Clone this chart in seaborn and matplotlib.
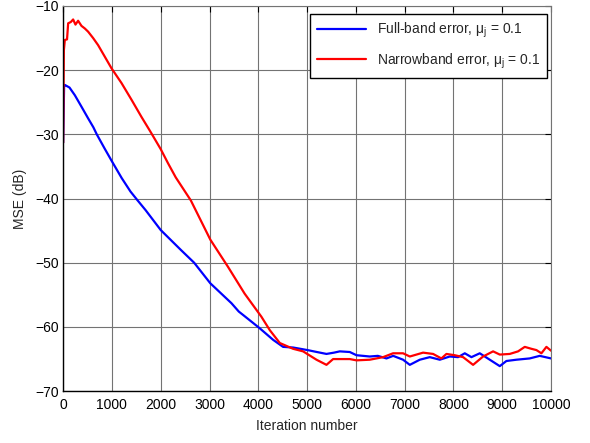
import numpy as np
import pandas as pd
import seaborn as sns
import matplotlib.pyplot as plt

# --- data ---
full_x = [0, 20, 35, 130, 240, 377, 512, 620, 690, 850, 1000, 1200, 1380, 1517, 1690,
          2000, 2413, 2686, 3017, 3450, 3600, 3700, 4029, 4303, 4508, 4713, 5008, 5200,
          5397, 5550, 5670, 5875, 6012, 6284, 6450, 6627, 6764, 6967, 7105, 7310, 7514,
          7720, 7924, 8094, 8232, 8368, 8539, 8744, 8949, 9085, 9290, 9563, 9768, 10000]
full_mse = [-31.3, -22.5, -22.3, -22.7, -23.9, -25.7, -27.5, -28.9, -30.0, -32.2, -34.2,
            -36.8, -38.9, -40.2, -41.8, -44.9, -48.0, -50.0, -53.2, -56.3, -57.6, -58.2,
            -60.2, -62.0, -63.1, -63.2, -63.6, -63.9, -64.2, -64.0, -63.8, -63.9, -64.4,
            -64.6, -64.5, -64.9, -64.5, -65.1, -65.9, -65.1, -64.7, -65.1, -64.6, -64.7,
            -64.1, -64.7, -64.1, -65.1, -66.1, -65.3, -65.1, -64.9, -64.5, -64.9]

narrow_x = [0, 15, 35, 80, 103, 157, 205, 253, 307, 376, 444, 512, 615, 717, 854, 991,
            1196, 1401, 1607, 1791, 2000, 2150, 2308, 2618, 3017, 3376, 3719, 4063, 4236,
            4441, 4713, 4918, 5192, 5397, 5533, 5875, 6012, 6284, 6557, 6762, 6967, 7105,
            7377, 7582, 7752, 7856, 8026, 8197, 8402, 8607, 8812, 8949, 9154, 9324, 9461,
            9597, 9700, 9802, 9905, 10000]
narrow_mse = [-31.3, -16.9, -15.3, -15.2, -12.7, -12.5, -12.1, -12.9, -12.3, -13.1, -13.5,
              -14.0, -15.0, -16.1, -17.9, -19.7, -22.0, -24.6, -27.3, -29.6, -32.3, -34.5,
              -36.7, -40.3, -46.4, -50.6, -54.8, -58.4, -60.5, -62.5, -63.4, -63.8, -65.1,
              -65.9, -65.0, -65.0, -65.2, -65.1, -64.7, -64.1, -64.1, -64.6, -64.0, -64.2,
              -64.9, -64.2, -64.4, -64.7, -65.9, -64.6, -63.8, -64.3, -64.2, -63.8, -63.1,
              -63.4, -63.6, -64.1, -63.1, -63.7]

x_ticks = list(range(0, 10001, 1000))
y_ticks = list(range(-70, -9, 10))

# --- style ---
sns.set_style("white")
plt.rcParams['font.family'] = ['Liberation Sans', 'DejaVu Sans']
plt.rcParams['mathtext.fontset'] = 'custom'
plt.rcParams['mathtext.rm'] = 'Liberation Sans'
plt.rcParams['mathtext.it'] = 'Liberation Sans'

fig = plt.figure(figsize=(5.9, 4.43), dpi=100)
ax = fig.add_axes([0.107, 0.117, 0.827, 0.8695])

sns.lineplot(x=full_x, y=full_mse, ax=ax, color='#0000ff', lw=1.6, estimator=None,
             sort=False, label='Full-band error, $\\mathregular{\\mu_j}$ = 0.1')
sns.lineplot(x=narrow_x, y=narrow_mse, ax=ax, color='#ff0000', lw=1.6, estimator=None,
             sort=False, label='Narrowband error, $\\mathregular{\\mu_j}$ = 0.1')

ax.set_xlim(0, 10000)
ax.set_ylim(-70, -10)
ax.set_xticks(x_ticks)
ax.set_yticks(y_ticks)
ax.grid(True, color='0.45', lw=0.8)
ax.set_axisbelow(True)
ax.tick_params(direction='in', length=4, width=0.8, top=True, right=True,
               labelsize=10, colors='black')
ax.tick_params(axis='x', pad=5)
ax.tick_params(axis='y', pad=3)
for side in ['left', 'bottom']:
    ax.spines[side].set_color('black')
    ax.spines[side].set_linewidth(1.0)
for side in ['top', 'right']:
    ax.spines[side].set_color('0.45')
    ax.spines[side].set_linewidth(0.8)

ax.set_xlabel('Iteration number', fontsize=10, labelpad=5)
ax.set_ylabel('MSE (dB)', fontsize=10, labelpad=6)

leg = ax.legend(loc='upper right', fontsize=10, frameon=True, fancybox=False,
                edgecolor='black', framealpha=1, borderpad=0.5, handlelength=3.5,
                labelspacing=0.8, borderaxespad=0, bbox_to_anchor=(0.992, 0.979))
leg.get_frame().set_linewidth(1.0)

plt.savefig('out.png', dpi=100)
